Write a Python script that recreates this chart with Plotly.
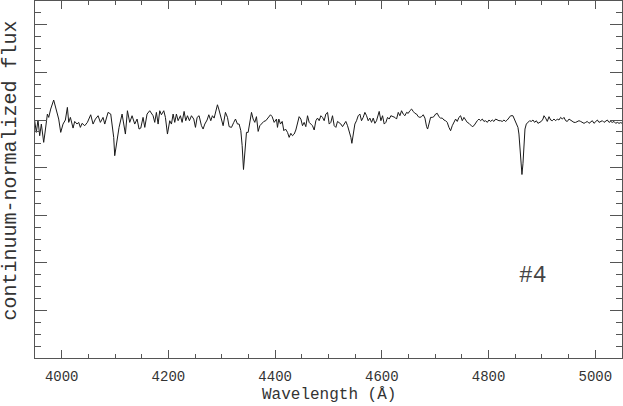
import plotly.graph_objects as go

wavelength = [
    3949.4, 3952.5, 3955.6, 3958.8, 3961.9, 3966.3, 3969.4, 3973.2, 3975.7, 3979.4,
    3985.0, 3990.0, 3994.4, 3998.2, 4002.5, 4006.9, 4010.7, 4013.2, 4016.3, 4021.3,
    4024.4, 4028.8, 4031.9, 4035.0, 4038.2, 4043.2, 4048.2, 4054.4, 4058.8, 4063.2,
    4068.2, 4072.5, 4077.5, 4080.7, 4086.9, 4091.9, 4094.4, 4097.5, 4099.4, 4103.8,
    4107.5, 4113.2, 4116.9, 4119.4, 4123.2, 4127.5, 4131.9, 4136.9, 4141.3, 4145.0,
    4148.2, 4152.5, 4155.7, 4160.0, 4165.0, 4171.3,
    4174.4, 4177.5, 4180.7, 4183.8, 4186.9, 4191.3, 4194.4, 4198.2, 4202.5, 4205.7,
    4208.8, 4211.9, 4215.0, 4218.2, 4222.5, 4225.7, 4229.4, 4232.5, 4235.7, 4239.4,
    4243.2, 4247.5, 4250.7, 4253.8, 4257.5, 4261.9, 4265.0, 4268.2, 4272.5, 4275.7,
    4279.4, 4282.5, 4285.7, 4288.8, 4291.9, 4294.4, 4298.2, 4302.5, 4306.9, 4310.7,
    4313.8, 4318.2, 4322.5, 4325.7, 4329.4, 4332.5, 4335.7, 4338.2, 4340.7, 4343.2,
    4346.3, 4349.4, 4352.5, 4355.7, 4358.8, 4361.9, 4365.0, 4368.2, 4371.3, 4374.4,
    4378.8, 4382.5, 4386.9, 4391.3, 4394.4, 4398.2,
    4402.5, 4404.4, 4406.9, 4410.0, 4413.2, 4416.3, 4419.4, 4423.2, 4426.3, 4429.4,
    4432.5, 4435.7, 4438.8, 4441.9, 4445.0, 4448.2, 4451.3, 4454.4, 4457.5, 4460.7,
    4463.8, 4466.9, 4470.0, 4473.2, 4476.3, 4479.4, 4482.5, 4485.7, 4488.8, 4491.9,
    4495.0, 4498.2, 4501.3, 4504.4, 4507.5, 4510.7, 4513.8, 4516.9, 4520.0, 4523.2,
    4526.3, 4529.4, 4532.5, 4535.7, 4538.8, 4541.9, 4543.8, 4546.3, 4549.4, 4552.5,
    4555.7, 4558.8, 4561.9, 4565.0, 4568.2, 4571.3, 4574.4, 4577.5, 4580.7, 4583.8,
    4586.9, 4590.0, 4593.2, 4595.0, 4598.2, 4601.3, 4604.4, 4607.5, 4610.7, 4613.8,
    4616.9, 4621.3,
    4624.4, 4627.5, 4630.7, 4633.8, 4636.9, 4640.0, 4643.2, 4646.3, 4649.4, 4652.5,
    4655.7, 4658.8, 4661.9, 4665.0, 4668.2, 4671.3, 4674.4, 4677.5, 4680.7, 4683.8,
    4685.7, 4688.2, 4691.3, 4694.4, 4697.5, 4700.7, 4703.8, 4706.9, 4710.0, 4713.2,
    4716.3, 4719.4, 4722.5, 4725.7, 4728.8, 4731.9, 4735.0, 4738.2, 4741.3, 4744.4,
    4747.5, 4750.7, 4753.8, 4756.9, 4760.0, 4763.2, 4766.3, 4769.4, 4772.5, 4775.7,
    4778.8, 4781.9, 4785.0, 4788.2, 4791.3, 4794.4, 4797.5, 4800.7, 4803.8, 4806.9,
    4810.0, 4813.2, 4816.3, 4819.4, 4822.5, 4825.7, 4828.8, 4831.9, 4835.0, 4838.2,
    4841.3,
    4845.6, 4848.8, 4851.9, 4855.0, 4856.9, 4859.4, 4861.3, 4862.5, 4864.4, 4866.3,
    4868.2, 4870.7, 4873.8, 4876.9, 4880.0, 4883.2, 4886.3, 4889.4, 4892.5, 4895.7,
    4898.8, 4901.9, 4903.8, 4906.9, 4910.0, 4913.2, 4916.3, 4919.4, 4922.5, 4925.7,
    4928.8, 4931.9, 4935.0, 4938.2, 4941.3, 4944.4, 4947.5, 4950.7, 4953.8, 4956.9,
    4960.0, 4963.2, 4966.3, 4969.4, 4972.5, 4975.7, 4978.8, 4981.9, 4985.0, 4988.2,
    4991.3, 4994.4, 4997.5, 5000.7, 5003.8, 5006.9, 5010.0, 5013.2, 5016.3, 5019.4,
    5022.5, 5025.7, 5028.8, 5031.9, 5035.0, 5038.2, 5041.3, 5044.4, 5047.5, 5050.6,
]
flux = [
    0.997, 0.948, 1.000, 0.934, 0.983, 0.906, 0.958, 1.025, 1.011, 1.046,
    1.084, 1.039, 1.004, 0.948, 0.983, 1.000, 1.053, 0.990, 1.011, 0.966,
    0.994, 0.983, 0.990, 0.969, 0.986, 0.976, 0.990, 1.022, 0.983, 1.004,
    1.018, 0.990, 1.011, 0.983, 1.032, 1.025, 0.969, 0.927, 0.850, 0.913,
    0.969, 1.025, 0.983, 0.941, 1.039, 0.990, 1.018, 0.983, 1.004, 0.962,
    0.966, 1.011, 0.969, 1.025, 1.039, 1.018,
    0.990, 1.032, 0.983, 1.039, 1.022, 1.039, 1.011, 0.941, 0.997, 0.983,
    1.025, 0.990, 1.025, 0.997, 1.018, 0.990, 1.036, 0.997, 1.018, 0.997,
    1.018, 1.004, 0.969, 1.011, 1.018, 0.976, 0.962, 0.983, 1.000, 1.022,
    0.997, 1.018, 1.008, 1.039, 1.064, 1.046, 1.011, 0.976, 1.032, 1.011,
    0.972, 0.969, 0.990, 1.004, 0.983, 0.983, 0.955, 0.892, 0.792, 0.858,
    0.948, 0.948, 0.983, 1.032, 1.004, 0.990, 1.014, 0.952, 0.976, 0.983,
    0.994, 0.997, 1.011, 1.022, 1.014, 0.990,
    1.004, 0.969, 1.004, 0.983, 0.994, 0.955, 0.962, 0.948, 0.927, 0.944,
    0.934, 0.941, 0.958, 0.983, 1.014, 1.004, 0.976, 0.990, 0.972, 1.018,
    0.990, 0.983, 0.976, 0.958, 0.997, 1.008, 0.997, 1.018, 1.011, 0.997,
    1.025, 1.032, 0.983, 0.990, 1.018, 0.976, 0.969, 0.994, 0.990, 0.983,
    0.972, 0.983, 0.994, 0.976, 0.955, 0.927, 0.902, 0.941, 0.983, 0.997,
    1.018, 1.025, 0.997, 1.011, 1.032, 1.018, 0.997, 1.008, 0.990, 1.008,
    0.986, 0.997, 1.018, 1.036, 0.997, 1.018, 0.983, 0.990, 1.011, 1.004,
    1.018, 1.014,
    1.011, 1.004, 1.032, 1.018, 1.039, 1.025, 1.018, 1.032, 1.028, 1.039,
    1.046, 1.036, 1.028, 1.025, 1.014, 1.011, 1.014, 1.022, 1.008, 0.972,
    0.962, 0.983, 1.011, 1.011, 1.014, 1.025, 1.028, 1.014, 1.008, 1.008,
    1.000, 0.997, 0.990, 0.969, 0.955, 0.976, 0.990, 1.004, 0.994, 1.011,
    1.018, 0.997, 1.011, 0.997, 0.990, 0.986, 0.980, 0.972, 0.976, 0.990,
    0.997, 1.004, 0.997, 1.004, 0.994, 0.997, 0.990, 1.000, 0.994, 1.000,
    0.994, 1.004, 1.000, 0.997, 0.997, 0.994, 1.000, 0.994, 1.000, 1.011,
    1.018,
    1.018, 1.000, 0.990, 0.969, 0.941, 0.871, 0.802, 0.771, 0.816, 0.899,
    0.962, 0.983, 0.990, 0.997, 0.994, 1.000, 0.990, 0.997, 0.986, 0.990,
    0.994, 1.004, 1.018, 1.008, 0.994, 1.014, 1.000, 0.997, 1.004, 0.997,
    1.004, 1.000, 1.011, 1.004, 1.011, 0.997, 0.994, 1.004, 1.000, 0.994,
    0.990, 0.990, 0.994, 0.997, 0.994, 0.990, 0.986, 0.990, 0.994, 0.986,
    0.990, 0.997, 0.986, 0.994, 1.000, 0.990, 0.994, 0.997, 0.990, 0.994,
    1.000, 0.990, 0.994, 0.990, 0.994, 0.986, 0.990, 0.986, 0.989, 0.986,
]

x_range = [3950, 5050]
y_range = [0, 1.5]
label = "#4"

fnt = "Liberation Mono"
axcol = "#555555"

fig = go.Figure()
fig.add_trace(go.Scatter(
    x=wavelength, y=flux, mode="lines",
    line=dict(color="#1a1a1a", width=1),
    showlegend=False, hoverinfo="skip",
))

fig.add_annotation(x=4883, y=0.345, xref="x", yref="y", text=label,
                   showarrow=False, font=dict(family=fnt, size=23, color="#444444"))
fig.add_annotation(x=0.5, y=0, xref="paper", yref="paper", yshift=-37,
                   yanchor="middle", text="Wavelength (Å)", showarrow=False,
                   font=dict(family=fnt, size=16, color="#333333"))
fig.add_annotation(x=0, y=0.5, xref="paper", yref="paper", xshift=-25, yshift=9,
                   xanchor="center", yanchor="middle",
                   text="continuum-normalized flux", textangle=-90, showarrow=False,
                   font=dict(family=fnt, size=20, color="#333333"))

axis_common = dict(
    showline=True, linecolor=axcol, linewidth=1, mirror="allticks",
    ticks="inside", tickcolor=axcol, showgrid=False, zeroline=False,
)

fig.update_layout(
    width=623, height=406,
    margin=dict(l=35, r=1, t=1, b=48),
    plot_bgcolor="white", paper_bgcolor="white",
    xaxis=dict(
        range=x_range, tick0=4000, dtick=200, ticklen=8, tickwidth=1,
        ticklabelstandoff=5,
        tickfont=dict(family=fnt, size=14, color="#333333"),
        minor=dict(dtick=50, ticks="inside", ticklen=4, tickcolor=axcol),
        **axis_common,
    ),
    yaxis=dict(
        range=y_range, tick0=0, dtick=0.2, ticklen=12, showticklabels=False,
        minor=dict(dtick=0.05, ticks="inside", ticklen=6, tickcolor=axcol),
        **axis_common,
    ),
)

# drop the default page margin so the figure sits at the window's corner
fig.write_html("out.html", config={"displayModeBar": False},
               post_script="document.body.style.margin='0';")
